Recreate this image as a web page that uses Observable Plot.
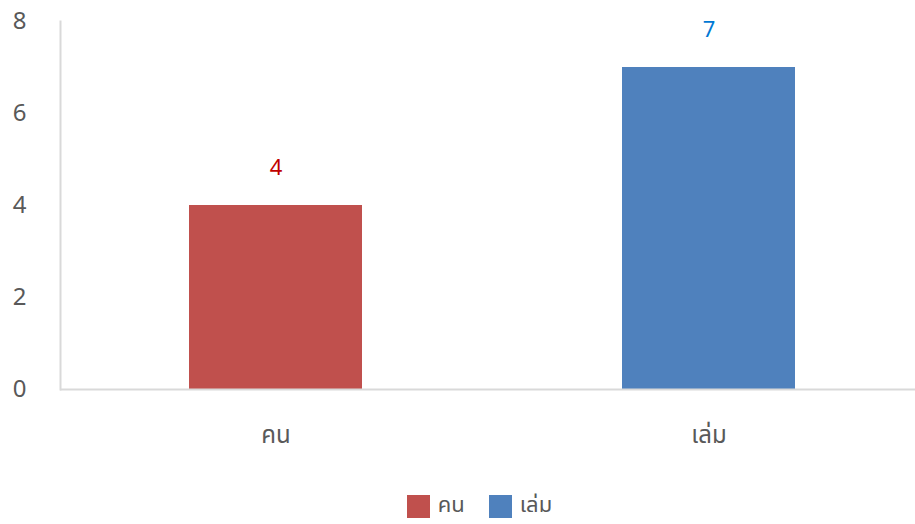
<!DOCTYPE html>
<html>
<head>
<meta charset="utf-8">
<script src="https://cdn.jsdelivr.net/npm/d3@7"></script>
<script src="https://cdn.jsdelivr.net/npm/@observablehq/plot@0.6"></script>
<style>
  body { margin: 0; background: #fff; font-family: "Noto Sans Thai", "Noto Sans", sans-serif; }
  #chart svg { display: block; }
  #legend { display: flex; justify-content: center; align-items: center; height: 28px; line-height: 28px; margin-top: 12px; margin-left: 44px; font-size: 22px; color: #595959; }
  .item { display: flex; align-items: center; margin: 0 12px; }
  .sw { width: 23px; height: 23px; margin-right: 8px; }
</style>
</head>
<body>
<div id="chart"></div>
<div id="legend"></div>
<script>
const categories = ["คน", "เล่ม"];
const values = [4, 7];
const barColors = ["#c0504d", "#4f81bd"];
const labelColors = ["#c00000", "#0078d4"];
const yTicks = [0, 2, 4, 6, 8];

const data = categories.map((c, i) => ({ cat: c, value: values[i], fill: barColors[i], lab: labelColors[i] }));

const chart = Plot.plot({
  width: 915,
  height: 480,
  marginLeft: 60,
  marginRight: 0,
  marginTop: 21,
  marginBottom: 91,
  style: { fontFamily: "'Noto Sans Thai', 'Noto Sans', sans-serif", color: "#595959", background: "#fff" },
  x: { domain: categories, range: [59.5, 925.5], paddingInner: 0.6, paddingOuter: 0.3, label: null },
  y: { domain: [0, 8], label: null },
  marks: [
    Plot.barY(data, { x: "cat", y: "value", fill: "fill" }),
    Plot.text(data, { x: "cat", y: "value", text: d => String(d.value), fill: "lab", dy: -38, fontSize: 22 }),
    Plot.axisY({ ticks: yTicks, tickSize: 0, tickPadding: 34, fontSize: 24, fill: "#595959", label: null }),
    Plot.axisX({ tickSize: 0, tickPadding: 36, fontSize: 24, fill: "#595959", label: null }),
    Plot.ruleY([0], { stroke: "#d9d9d9", strokeWidth: 2 }),
    Plot.frame({ anchor: "left", stroke: "#d9d9d9", strokeWidth: 2 })
  ]
});
document.getElementById("chart").appendChild(chart);

const legend = document.getElementById("legend");
categories.forEach((c, i) => {
  const it = document.createElement("div");
  it.className = "item";
  const sw = document.createElement("div");
  sw.className = "sw";
  sw.style.background = barColors[i];
  const t = document.createElement("span");
  t.textContent = c;
  it.appendChild(sw);
  it.appendChild(t);
  legend.appendChild(it);
});
</script>
</body>
</html>
